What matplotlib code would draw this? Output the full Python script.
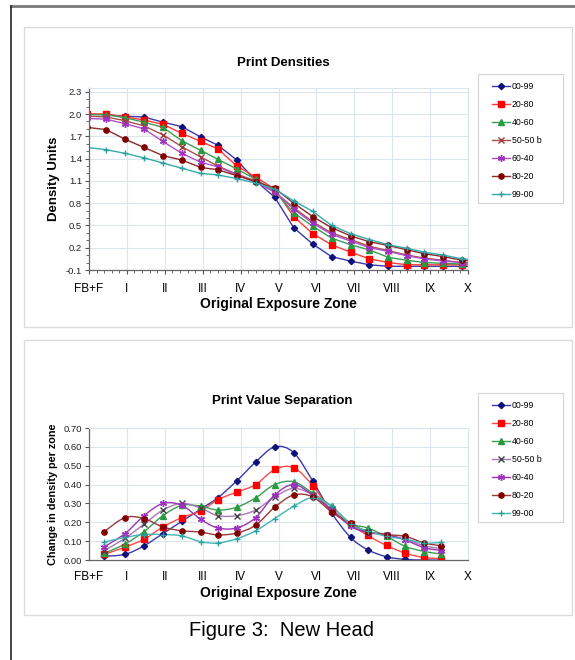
import matplotlib
matplotlib.use("Agg")
import matplotlib.pyplot as plt
import numpy as np
from matplotlib.lines import Line2D
from matplotlib.patches import PathPatch, Rectangle
from matplotlib.path import Path

plt.rcParams["font.family"] = ["Liberation Sans", "DejaVu Sans"]

# zone labels on the x axis
zone_labels = ["FB+F", "I", "II", "III", "IV", "V", "VI", "VII", "VIII", "IX", "X"]
series_names = ["00-99", "20-80", "40-60", "50-50 b", "60-40", "80-20", "99-00"]

# exposure positions (zones) of the measured steps
x_density = [-0.05, 0.45, 0.95, 1.45, 1.95, 2.45, 2.95, 3.4, 3.9, 4.4, 4.9,
             5.4, 5.9, 6.4, 6.9, 7.4, 7.9, 8.4, 8.85, 9.35, 9.85, 10.35]
x_separation = [0.4, 0.95, 1.45, 1.95, 2.45, 2.95, 3.4, 3.9, 4.4, 4.9,
                5.4, 5.9, 6.4, 6.9, 7.35, 7.85, 8.35, 8.85, 9.3]

# print densities
d_00_99 = [2.00, 1.99, 1.97, 1.96, 1.89, 1.83, 1.69, 1.58, 1.38, 1.10, 0.88,
           0.47, 0.25, 0.08, 0.02, -0.03, -0.05, -0.05, -0.05, -0.05, -0.05, -0.05]
d_20_80 = [2.00, 2.00, 1.96, 1.92, 1.86, 1.74, 1.63, 1.53, 1.30, 1.15, 0.99,
           0.62, 0.39, 0.24, 0.14, 0.05, 0.00, -0.03, -0.03, -0.03, -0.03, -0.03]
d_40_60 = [1.99, 1.99, 1.95, 1.89, 1.82, 1.64, 1.51, 1.39, 1.26, 1.12, 0.96,
           0.67, 0.49, 0.33, 0.24, 0.17, 0.07, 0.03, 0.00, -0.01, -0.02, -0.02]
d_50_50 = [1.97, 1.96, 1.91, 1.84, 1.72, 1.56, 1.42, 1.30, 1.19, 1.10, 0.95,
           0.74, 0.55, 0.40, 0.31, 0.22, 0.16, 0.10, 0.06, 0.03, 0.00, -0.01]
d_60_40 = [1.94, 1.93, 1.87, 1.80, 1.63, 1.47, 1.35, 1.29, 1.18, 1.08, 0.95,
           0.72, 0.53, 0.38, 0.29, 0.20, 0.15, 0.09, 0.05, 0.02, 0.00, -0.01]
d_80_20 = [1.82, 1.79, 1.66, 1.55, 1.44, 1.38, 1.28, 1.25, 1.17, 1.09, 1.00,
           0.80, 0.62, 0.47, 0.36, 0.28, 0.23, 0.17, 0.12, 0.08, 0.03, 0.01]
d_99_00 = [1.55, 1.52, 1.47, 1.41, 1.34, 1.27, 1.20, 1.18, 1.13, 1.07, 0.99,
           0.83, 0.69, 0.50, 0.39, 0.31, 0.24, 0.19, 0.14, 0.10, 0.05, 0.03]

# print value separation
s_00_99 = [0.020, 0.030, 0.075, 0.140, 0.205, 0.270, 0.330, 0.420, 0.520, 0.600,
           0.570, 0.420, 0.250, 0.120, 0.055, 0.017, 0.003, 0.000, 0.000]
s_20_80 = [0.030, 0.068, 0.110, 0.175, 0.225, 0.260, 0.320, 0.360, 0.400, 0.480,
           0.490, 0.395, 0.260, 0.190, 0.130, 0.077, 0.036, 0.013, 0.007]
s_40_60 = [0.035, 0.085, 0.150, 0.235, 0.290, 0.285, 0.265, 0.280, 0.330, 0.400,
           0.415, 0.355, 0.285, 0.195, 0.170, 0.125, 0.072, 0.045, 0.032]
s_50_50 = [0.050, 0.115, 0.190, 0.265, 0.300, 0.275, 0.235, 0.235, 0.265, 0.335,
           0.380, 0.345, 0.270, 0.185, 0.150, 0.135, 0.110, 0.075, 0.060]
s_60_40 = [0.070, 0.140, 0.235, 0.300, 0.290, 0.215, 0.170, 0.170, 0.225, 0.345,
           0.400, 0.345, 0.265, 0.180, 0.145, 0.135, 0.105, 0.065, 0.050]
s_80_20 = [0.150, 0.225, 0.220, 0.175, 0.155, 0.148, 0.133, 0.143, 0.185, 0.280,
           0.345, 0.335, 0.255, 0.195, 0.150, 0.135, 0.125, 0.090, 0.075]
s_99_00 = [0.095, 0.120, 0.135, 0.135, 0.128, 0.097, 0.090, 0.113, 0.155, 0.220,
           0.285, 0.330, 0.285, 0.190, 0.155, 0.125, 0.110, 0.090, 0.093]

# styles: line colour, marker, marker face, marker edge, marker size
style_top = [
    ("#3a3aa8", "D", "#10107a", "#10107a", 3.2),
    ("#ff3a3a", "s", "#ff0000", "#ff0000", 4.0),
    ("#3a9e55", "^", "#2a9a40", "#2a9a40", 4.2),
    ("#a85050", "x", "#a03a3a", "#a03a3a", 4.5),
    ("#b050c8", (6, 2, 0), "#a030c0", "#a030c0", 5.0),
    ("#8c2a2a", "o", "#800000", "#800000", 3.8),
    ("#35abab", "+", "#2aa0a0", "#2aa0a0", 5.0),
]
style_bot = [
    ("#3a3aa8", "D", "#10107a", "#10107a", 3.2),
    ("#ff4a4a", "s", "#ff0000", "#ff0000", 4.0),
    ("#3a9e55", "^", "#2a9a40", "#2a9a40", 4.2),
    ("#a878b8", "x", "#444444", "#444444", 4.5),
    ("#9a35b0", (6, 2, 0), "#a030c0", "#a030c0", 5.0),
    ("#9a3a3a", "o", "#800000", "#800000", 3.8),
    ("#45b5b5", "+", "#2aa0a0", "#2aa0a0", 5.0),
]

GRID = "#dbe5ee"
W, H = 575.0, 660.0


def smooth_path(x, y):
    # bezier through the points, the way spreadsheet "smoothed lines" draw
    pts = np.column_stack([x, y])
    n = len(pts)
    verts = [pts[0]]
    codes = [Path.MOVETO]
    for i in range(n - 1):
        p0 = pts[i - 1] if i > 0 else pts[i]
        p1 = pts[i]
        p2 = pts[i + 1]
        p3 = pts[i + 2] if i + 2 < n else pts[i + 1]
        c1 = p1 + (p2 - p0) / 6.0
        c2 = p2 - (p3 - p1) / 6.0
        verts += [c1, c2, p2]
        codes += [Path.CURVE4] * 3
    return Path(verts, codes)


def style_axes(ax):
    ax.set_xlim(0, 10)
    ax.set_xticks(range(11))
    ax.set_xticklabels(zone_labels, fontsize=8.5)
    ax.grid(True, color=GRID, lw=0.8)
    ax.set_axisbelow(True)
    for side in ["top", "right"]:
        ax.spines[side].set_color(GRID)
    for side in ["left", "bottom"]:
        ax.spines[side].set_color("#666666")
        ax.spines[side].set_linewidth(0.9)
    ax.tick_params(axis="x", length=3, pad=6, colors="#555555", labelcolor="black")
    ax.tick_params(axis="y", length=3, pad=2, labelsize=6.8, colors="#555555", labelcolor="#222222")


def add_legend(fig, ax, handles, top_px):
    # frame drawn separately so the box size matches the original
    fig.add_artist(Rectangle((478 / W, 1 - (top_px + 129) / H), 85 / W, 129 / H,
                             fill=False, edgecolor="#d4d4d4", lw=0.8))
    leg = ax.legend(handles=handles, loc="upper left",
                    bbox_to_anchor=(492 / W, 1 - (top_px + 8) / H),
                    bbox_transform=fig.transFigure, fontsize=6.3, frameon=False,
                    handlelength=2.1, handletextpad=0.15, labelspacing=1.03,
                    borderpad=0.0, borderaxespad=0)
    return leg


fig = plt.figure(figsize=(5.75, 6.6), dpi=100)

# page frame and panels
fig.add_artist(Line2D([11 / W, 1.0], [1 - 6 / H, 1 - 6 / H], color="#7a7a7a", lw=2.0))
fig.add_artist(Line2D([11 / W, 11 / W], [0.0, 1 - 6 / H], color="#222222", lw=1.2))
fig.add_artist(Rectangle((24 / W, 1 - 327 / H), 548 / W, 300 / H, fill=False,
                         edgecolor="#dcdcdc", lw=1.0))
fig.add_artist(Rectangle((24 / W, 1 - 615 / H), 548 / W, 275 / H, fill=False,
                         edgecolor="#dcdcdc", lw=1.0))

# top chart
ax1 = fig.add_axes([89 / W, 1 - 270 / H, 379 / W, 182 / H])
dens = [d_00_99, d_20_80, d_40_60, d_50_50, d_60_40, d_80_20, d_99_00]
handles = []
for name, vals, (lc, mk, mf, me, ms) in zip(series_names, dens, style_top):
    line, = ax1.plot(x_density, vals, color=lc, lw=1.0, marker=mk, mfc=mf, mec=me,
                     ms=ms, mew=1.0, label=name)
    handles.append(line)
ax1.set_ylim(-0.1, 2.35)
ax1.set_yticks(np.arange(-0.1, 2.31, 0.3))
ax1.set_yticklabels([f"{v:.1f}" for v in np.arange(-0.1, 2.31, 0.3)])
ax1.set_yticks(np.arange(-0.1, 2.35, 0.1), minor=True)
ax1.set_xticks(np.arange(0, 10.01, 0.2), minor=True)
ax1.tick_params(which="minor", length=2, colors="#555555")
style_axes(ax1)
ax1.grid(False, which="minor")
ax1.set_xlabel("Original Exposure Zone", fontsize=10, fontweight="bold", labelpad=2)
ax1.set_ylabel("Density Units", fontsize=9.5, fontweight="bold", labelpad=4)
add_legend(fig, ax1, handles, 74)
fig.text(283 / W, 1 - 63 / H, "Print Densities", ha="center", va="center",
         fontsize=9.5, fontweight="bold")

# bottom chart
ax2 = fig.add_axes([89 / W, 1 - 560 / H, 379 / W, 132 / H])
seps = [s_00_99, s_20_80, s_40_60, s_50_50, s_60_40, s_80_20, s_99_00]
handles = []
for name, vals, (lc, mk, mf, me, ms) in zip(series_names, seps, style_bot):
    ax2.add_patch(PathPatch(smooth_path(x_separation, vals), fill=False,
                            edgecolor=lc, lw=1.0))
    ax2.plot(x_separation, vals, ls="none", marker=mk, mfc=mf, mec=me, ms=ms, mew=1.0)
    handles.append(Line2D([], [], color=lc, lw=1.0, marker=mk, mfc=mf, mec=me,
                          ms=ms, mew=1.0, label=name))
ax2.set_ylim(0, 0.70)
ax2.set_yticks(np.arange(0, 0.701, 0.1))
ax2.set_yticklabels([f"{v:.2f}" for v in np.arange(0, 0.701, 0.1)])
style_axes(ax2)
ax2.tick_params(axis="x", length=0, pad=8)
ax2.set_xlabel("Original Exposure Zone", fontsize=10, fontweight="bold", labelpad=2)
ax2.set_ylabel("Change in density per zone", fontsize=7.8, fontweight="bold", labelpad=4)
add_legend(fig, ax2, handles, 393)
fig.text(282 / W, 1 - 401 / H, "Print Value Separation", ha="center", va="center",
         fontsize=9.5, fontweight="bold")

fig.text(0.49, 30 / H, "Figure 3:  New Head", ha="center", va="center", fontsize=14.5)

fig.savefig("out.png", dpi=100)
